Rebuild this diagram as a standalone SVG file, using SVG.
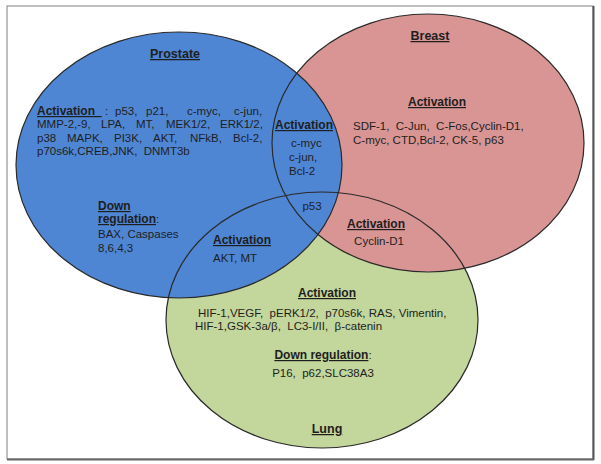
<svg xmlns="http://www.w3.org/2000/svg" width="601" height="464" viewBox="0 0 601 464">
<style>
text{font-family:"Liberation Sans",Arial,sans-serif;font-size:11.5px;fill:#1e1e1e;white-space:pre}
.t{font-weight:bold;font-size:12.5px;text-decoration:underline}
.h{font-weight:bold;font-size:12px;text-decoration:underline}
.o{fill:none;stroke:#2a2a2a;stroke-width:1.2}
</style>
<rect x="0" y="0" width="601" height="464" fill="#fff"/>
<rect x="7" y="6" width="586" height="453" fill="#fff" stroke="#808080" stroke-width="1"/>
<line x1="593.5" y1="6" x2="593.5" y2="460" stroke="#555" stroke-width="2"/>
<line x1="7" y1="459.5" x2="594" y2="459.5" stroke="#666" stroke-width="2"/>
<g id="lung"><ellipse cx="322" cy="320" rx="156" ry="128" fill="#c3d69b"/></g>
<g id="breast"><ellipse cx="428" cy="143" rx="156" ry="129" fill="#d99594"/></g>
<g id="prostate"><ellipse cx="179" cy="165" rx="163" ry="133" fill="#4f86d4"/></g>
<g id="outlines">
<ellipse class="o" cx="322" cy="320" rx="156" ry="128"/>
<ellipse class="o" cx="428" cy="143" rx="156" ry="129" stroke="#4a3030"/>
<ellipse class="o" cx="179" cy="165" rx="163" ry="133"/>
</g>
<g id="connectors"/>
<g id="labels">
<text class="t" x="175" y="58" text-anchor="middle">Prostate</text>
<text x="37" y="115"><tspan class="h">Activation  </tspan></text>
<text x="105" y="115">:</text>
<text x="115" y="115">p53,</text><text x="146" y="115">p21,</text><text x="187" y="115">c-myc,</text><text x="234" y="115">c-jun,</text>
<text x="37" y="128">MMP-2,-9,</text><text x="101" y="128">LPA,</text><text x="136" y="128">MT,</text><text x="166" y="128">MEK1/2,</text><text x="220" y="128">ERK1/2,</text>
<text x="37" y="142">p38</text><text x="67" y="142">MAPK,</text><text x="114" y="142">PI3K,</text><text x="153" y="142">AKT,</text><text x="190" y="142">NFkB,</text><text x="233" y="142">Bcl-2,</text>
<text x="37" y="155">p70s6k,CREB,JNK,  DNMT3b</text>
<text x="98" y="210"><tspan class="h">Down</tspan></text>
<text x="98" y="223"><tspan class="h">regulation</tspan>:</text>
<text x="98" y="238">BAX, Caspases</text>
<text x="98" y="252">8,6,4,3</text>

<text class="t" x="430" y="40" text-anchor="middle">Breast</text>
<text class="h" x="437" y="106" text-anchor="middle">Activation</text>
<text x="353" y="130">SDF-1,  C-Jun,  C-Fos,Cyclin-D1,</text>
<text x="353" y="144">C-myc, CTD,Bcl-2, CK-5, p63</text>

<text class="h" x="304" y="129" text-anchor="middle">Activation</text>
<text x="291" y="147">c-myc</text>
<text x="289" y="161">c-jun,</text>
<text x="289" y="175">Bcl-2</text>
<text x="312" y="210" text-anchor="middle">p53</text>

<text class="h" x="376" y="228" text-anchor="middle">Activation</text>
<text x="379" y="245" text-anchor="middle">Cyclin-D1</text>

<text class="h" x="213" y="244">Activation</text>
<text x="213" y="262">AKT, MT</text>

<text class="h" x="327" y="297" text-anchor="middle">Activation</text>
<text x="198" y="317">HIF-1,VEGF,  pERK1/2,  p70s6k, RAS, Vimentin,</text>
<text x="195" y="330">HIF-1,GSK-3a/β,  LC3-I/II,  β-catenin</text>
<text x="323" y="359" text-anchor="middle"><tspan class="h">Down regulation</tspan>:</text>
<text x="323" y="377" text-anchor="middle">P16,  p62,SLC38A3</text>
<text class="t" x="327" y="433" text-anchor="middle">Lung</text>
</g>
</svg>
